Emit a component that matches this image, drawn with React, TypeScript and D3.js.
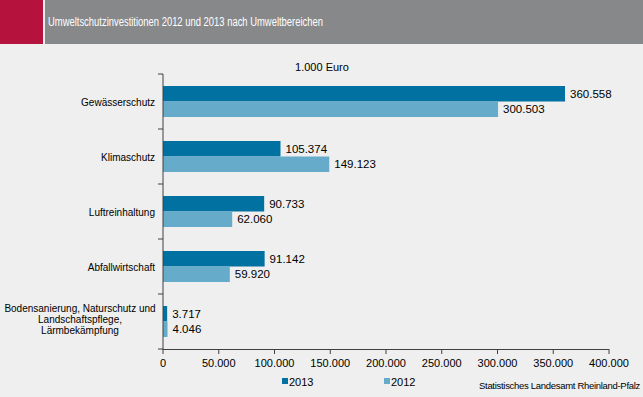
import React from "react";
import * as d3 from "d3";

const categories = [
  "Gewässerschutz",
  "Klimaschutz",
  "Luftreinhaltung",
  "Abfallwirtschaft",
  "Bodensanierung, Naturschutz und|Landschaftspflege,|Lärmbekämpfung",
];
const values2013 = [360558, 105374, 90733, 91142, 3717];
const values2012 = [300503, 149123, 62060, 59920, 4046];
const xTicks = [0, 50000, 100000, 150000, 200000, 250000, 300000, 350000, 400000];
const seriesNames = ["2013", "2012"];
const colors = ["#0071a1", "#66abc9"];

const fmt = (v: number) => d3.format(",.0f")(v).replace(/,/g, ".");

export default function App() {
  const W = 643, H = 397;
  const x = d3.scaleLinear().domain([0, 400000]).range([163, 609]);
  const y = d3.scaleBand().domain(categories).range([74, 349]).paddingInner(0).paddingOuter(0);
  const bw = y.bandwidth();
  const barH = 15.5;
  const font = "'Liberation Sans', Arial, sans-serif";
  return (
    <svg width={W} height={H} style={{ position: "absolute", left: 0, top: 0 }} fontFamily={font}>
      <rect x={0} y={0} width={W} height={H} fill="#eeefee" />
      <rect x={0} y={0} width={43} height={44} fill="#b5123e" />
      <rect x={45} y={0} width={W - 45} height={44} fill="#87888a" />
      <text x={48} y={26} fill="#ffffff" fontSize={12} textLength={275} lengthAdjust="spacingAndGlyphs">
        Umweltschutzinvestitionen 2012 und 2013 nach Umweltbereichen
      </text>
      <text x={322} y={71} textAnchor="middle" fontSize={11} fill="#000">1.000 Euro</text>
      {categories.map((c, i) => {
        const y0 = (y(c) as number) + bw / 2 - barH;
        const v13 = values2013[i], v12 = values2012[i];
        const lines = c.split("|");
        const cy = (y(c) as number) + bw / 2;
        return (
          <g key={c}>
            <rect x={x(0)} y={y0} width={x(v13) - x(0)} height={barH} fill={colors[0]} />
            <rect x={x(0)} y={y0 + barH} width={x(v12) - x(0)} height={barH} fill={colors[1]} />
            <text x={x(v13) + 5} y={y0 + barH / 2 + 4} fontSize={11.5} fill="#000">{fmt(v13)}</text>
            <text x={x(v12) + 5} y={y0 + barH * 1.5 + 4} fontSize={11.5} fill="#000">{fmt(v12)}</text>
            {lines.map((l, j) => (
              <text key={j} x={lines.length > 1 ? 80 : 155} y={cy + 4 + (j - (lines.length - 1) / 2) * 11 - (lines.length > 1 ? 3 : 0)}
                textAnchor={lines.length > 1 ? "middle" : "end"} fontSize={10} fill="#000">{l}</text>
            ))}
          </g>
        );
      })}
      <line x1={163} x2={163} y1={74} y2={350} stroke="#404040" strokeWidth={1} />
      {categories.map((c, i) => (
        <line key={i} x1={158} x2={163} y1={(y(c) as number)} y2={(y(c) as number)} stroke="#404040" />
      ))}
      <line x1={158} x2={163} y1={349} y2={349} stroke="#404040" />
      <line x1={163} x2={609} y1={349.5} y2={349.5} stroke="#404040" />
      {xTicks.map((t) => (
        <g key={t}>
          <line x1={x(t)} x2={x(t)} y1={349} y2={354} stroke="#404040" />
          <text x={x(t)} y={367} textAnchor="middle" fontSize={11} fill="#000">{fmt(t)}</text>
        </g>
      ))}
      {seriesNames.map((s, i) => (
        <g key={s}>
          <rect x={282 + i * 102} y={378} width={6} height={6} fill={colors[i]} />
          <text x={289 + i * 102} y={386} fontSize={11} fill="#000">{s}</text>
        </g>
      ))}
      <text x={640} y={389} textAnchor="end" fontSize={9.5} fill="#000" letterSpacing={-0.3}>Statistisches Landesamt Rheinland-Pfalz</text>
    </svg>
  );
}
